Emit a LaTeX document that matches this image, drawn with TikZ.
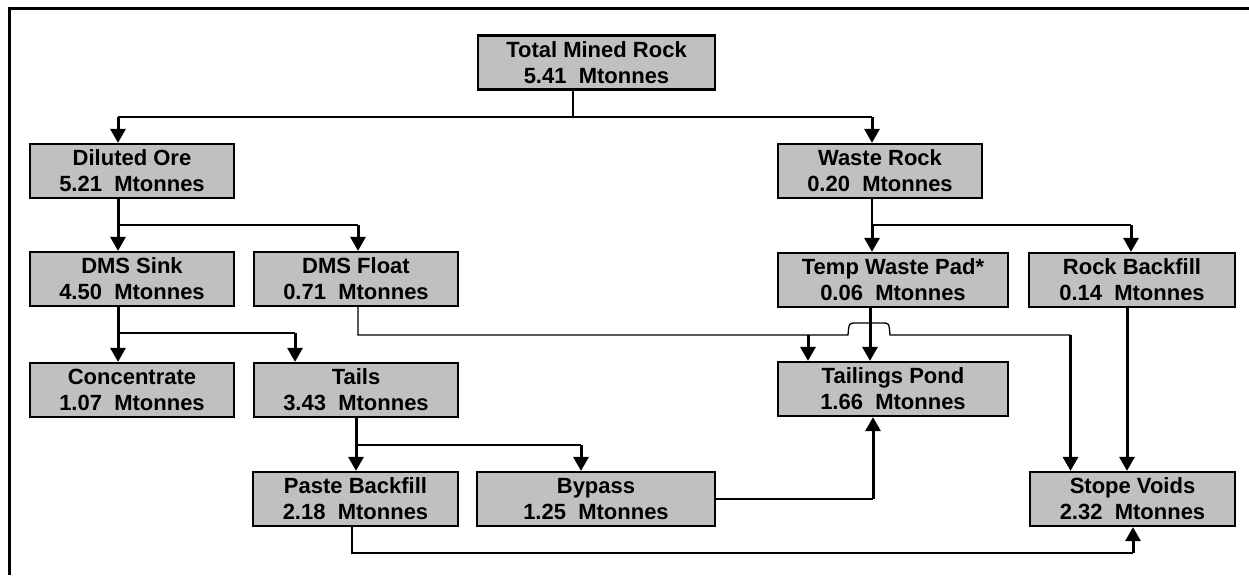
\documentclass[tikz,border=0pt]{standalone}
\usepackage{fontspec}
\setmainfont{Liberation Sans}
\usetikzlibrary{arrows.meta,positioning,shadows}
\definecolor{boxgray}{RGB}{192,192,192}

\begin{document}
\begin{tikzpicture}[x=0.5pt,y=0.5pt]
	\tikzstyle{box}=[draw,line width=1.1pt,fill=boxgray,inner sep=0pt,minimum height=27pt,align=center,font=\fontsize{11}{13}\selectfont\bfseries,drop shadow={shadow xshift=0.7pt,shadow yshift=-0.7pt,fill=black,opacity=1}]
	\tikzstyle{feed}=[line width=0.65pt]
	\tikzstyle{flow}=[line width=1.5pt,-{Triangle[length=7pt,width=7.5pt]}]
	\useasboundingbox (0,0) rectangle (1249,-575);
	\draw [line width=1.5pt] (9,-575) -- (9,-8.5) -- (1249,-8.5);
	% boxes
	\node [box,minimum width=118.5pt] (total) at (596.5,-62.5) {Total Mined Rock\\5.41\ \ Mtonnes};
	\node [box,minimum width=102pt] (diluted) at (132,-171) {Diluted Ore\\5.21\ \ Mtonnes};
	\node [box,minimum width=102pt] (waste) at (880,-171) {Waste Rock\\0.20\ \ Mtonnes};
	\node [box,minimum width=102pt] (sink) at (132,-279) {DMS Sink\\4.50\ \ Mtonnes};
	\node [box,minimum width=102pt] (float) at (356,-279) {DMS Float\\0.71\ \ Mtonnes};
	\node [box,minimum width=115pt] (temp) at (893,-280) {Temp Waste Pad*\\0.06\ \ Mtonnes};
	\node [box,minimum width=103pt] (rockbf) at (1132,-280) {Rock Backfill\\0.14\ \ Mtonnes};
	\node [box,minimum width=102pt] (conc) at (132,-390) {Concentrate\\1.07\ \ Mtonnes};
	\node [box,minimum width=102pt] (tails) at (356,-390) {Tails\\3.43\ \ Mtonnes};
	\node [box,minimum width=115pt] (pond) at (893,-389) {Tailings Pond\\1.66\ \ Mtonnes};
	\node [box,minimum width=102.5pt] (paste) at (355.5,-499) {Paste Backfill\\2.18\ \ Mtonnes};
	\node [box,minimum width=119pt] (bypass) at (596,-499) {Bypass\\1.25\ \ Mtonnes};
	\node [box,minimum width=102.5pt] (stope) at (1132.5,-499) {Stope Voids\\2.32\ \ Mtonnes};
	% bus levels
	\coordinate (bus1) at (0,-117);
	\coordinate (bus2) at (0,-225);
	\coordinate (bus3) at (0,-333);
	\coordinate (bus3b) at (0,-335);
	\coordinate (bus4) at (0,-445);
	\coordinate (bus5) at (0,-553);
	% in and out points
	\coordinate (totOut) at ([xshift=-11.75pt]total.south);
	\coordinate (dilIn) at ([xshift=-7pt]diluted.north);
	\coordinate (dilOut) at ([xshift=-7pt]diluted.south);
	\coordinate (wasIn) at ([xshift=-4pt]waste.north);
	\coordinate (wasOut) at ([xshift=-4pt]waste.south);
	\coordinate (sinkIn) at ([xshift=-7pt]sink.north);
	\coordinate (sinkOut) at ([xshift=-7pt]sink.south);
	\coordinate (floIn) at ([xshift=1pt]float.north);
	\coordinate (floOut) at ([xshift=1pt]float.south);
	\coordinate (tempIn) at ([xshift=-10.5pt]temp.north);
	\coordinate (tempOut) at ([xshift=-11.5pt]temp.south);
	\coordinate (rockIn) at ([xshift=-0.5pt]rockbf.north);
	\coordinate (rockOut) at ([xshift=-2.5pt]rockbf.south);
	\coordinate (concIn) at ([xshift=-7pt]conc.north);
	\coordinate (tailIn) at ([xshift=-30.5pt]tails.north);
	\coordinate (tailOut) at (tails.south);
	\coordinate (pondIn) at ([xshift=-42.5pt]pond.north);
	\coordinate (pondUp) at ([xshift=-10pt]pond.south);
	\coordinate (pasOut) at ([xshift=-1.75pt]paste.south);
	\coordinate (bypIn) at ([xshift=-7.5pt]bypass.north);
	\coordinate (stoIn) at ([xshift=-31pt]stope.north);
	\coordinate (stoUp) at ([xshift=0.25pt]stope.south);
	% mined rock
	\draw [feed] (totOut) -- (totOut |- bus1);
	\draw [feed] (dilIn |- bus1) -- (wasIn |- bus1);
	\draw [flow] (dilIn |- bus1) -- (dilIn);
	\draw [flow] (wasIn |- bus1) -- (wasIn);
	% diluted ore
	\draw [flow] (dilOut) -- (sinkIn);
	\draw [feed] (dilOut |- bus2) -- (floIn |- bus2);
	\draw [flow] (floIn |- bus2) -- (floIn);
	% waste rock
	\draw [feed] (wasOut) -- (wasOut |- bus2) -- (rockIn |- bus2);
	\draw [flow] (tempIn |- bus2) -- (tempIn);
	\draw [flow] (rockIn |- bus2) -- (rockIn);
	% dms sink
	\draw [flow] (sinkOut) -- (concIn);
	\draw [feed] (sinkOut |- bus3) -- (tailIn |- bus3);
	\draw [flow] (tailIn |- bus3) -- (tailIn);
	% dms float, hopping over the waste pad line
	\draw [feed] (floOut) |- (848,-335) .. controls (849,-323) .. (856,-323) -- (883,-323) .. controls (889,-323) .. (890,-335) -- (stoIn |- bus3b);
	\draw [flow] (pondIn |- bus3b) -- (pondIn);
	\draw [flow] (stoIn |- bus3b) -- (stoIn);
	% temp waste pad and rock backfill
	\draw [flow] (tempOut) -- (tempOut |- pond.north);
	\draw [flow] (rockOut) -- (rockOut |- stope.north);
	% tails
	\draw [flow] (tailOut) -- (tailOut |- paste.north);
	\draw [feed] (tailOut |- bus4) -- (bypIn |- bus4);
	\draw [flow] (bypIn |- bus4) -- (bypIn);
	% bypass and paste
	\draw [feed] (bypass.east) -- (pondUp |- bypass.east);
	\draw [flow] (pondUp |- bypass.east) -- (pondUp);
	\draw [feed] (pasOut) |- (stoUp |- bus5);
	\draw [flow] (stoUp |- bus5) -- (stoUp);
\end{tikzpicture}
\end{document}
